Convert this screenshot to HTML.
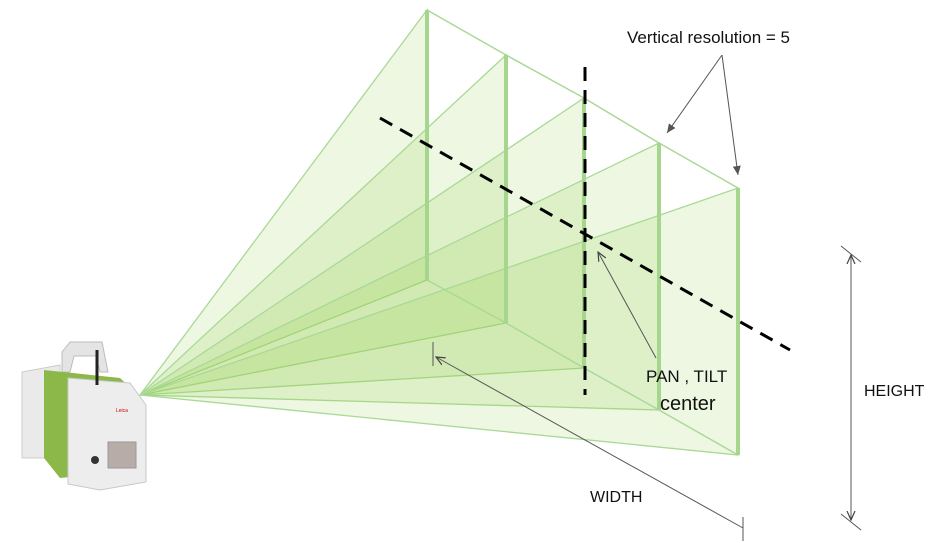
<!DOCTYPE html>
<html><head><style>body{margin:0;background:#fff}svg{display:block}</style></head><body>
<svg width="945" height="543" viewBox="0 0 945 543" xmlns="http://www.w3.org/2000/svg" font-family="Liberation Sans, sans-serif">
<defs>
<marker id="a" markerWidth="10" markerHeight="10" refX="9" refY="5" orient="auto" markerUnits="userSpaceOnUse"><path d="M0,1 L9,5 L0,9" fill="none" stroke="#444" stroke-width="1.2"/></marker>
<marker id="af" markerWidth="10" markerHeight="10" refX="9" refY="5" orient="auto" markerUnits="userSpaceOnUse"><path d="M0,1 L9,5 L0,9 z" fill="#555"/></marker>
</defs>
<g fill="rgba(146,208,80,0.17)" stroke="#a9d996" stroke-width="1.3">
<polygon points="140,395 427,10 427,280"/>
<polygon points="140,395 506,55 506,323"/>
<polygon points="140,395 584,98 584,368"/>
<polygon points="140,395 659,143 659,410"/>
<polygon points="140,395 738,188 738,455"/>
</g>
<g fill="none" stroke="#a9d996" stroke-width="1.5">
<polyline points="427,10 506,55 584,98 659,143 738,188"/>
<polyline points="427,280 506,323 584,368 659,410 738,455"/>
</g>
<g stroke="#a6d68e" stroke-width="4">
<line x1="427" y1="10" x2="427" y2="280"/><line x1="506" y1="55" x2="506" y2="323"/>
<line x1="584" y1="98" x2="584" y2="368"/><line x1="659" y1="143" x2="659" y2="410"/>
<line x1="738" y1="188" x2="738" y2="455"/>
</g>
<g stroke="#000" stroke-width="3" stroke-dasharray="14,9">
<line x1="380" y1="118" x2="790" y2="350"/>
<line x1="585" y1="67" x2="585" y2="395"/>
</g>
<g stroke="#555" stroke-width="1" fill="none">
<line x1="722" y1="55" x2="667" y2="133" marker-end="url(#af)"/>
<line x1="722" y1="55" x2="738" y2="175" marker-end="url(#af)"/>
<line x1="656" y1="358" x2="598" y2="252" marker-end="url(#a)"/>
<line x1="743" y1="528" x2="436" y2="357" marker-end="url(#a)"/>
<line x1="433" y1="342" x2="433" y2="366"/>
<line x1="743" y1="517" x2="743" y2="541"/>
<line x1="851" y1="520" x2="851" y2="255" marker-end="url(#a)"/>
<line x1="851" y1="256" x2="851" y2="520" marker-end="url(#a)"/>
<line x1="841" y1="246" x2="861" y2="262"/>
<line x1="841" y1="514" x2="861" y2="530"/>
</g>
<g fill="#111" font-size="17">
<text x="627" y="43">Vertical resolution = 5</text>
<text x="646" y="382">PAN , TILT</text>
<text x="660" y="410" font-size="20">center</text>
<text x="590" y="502" font-size="16">WIDTH</text>
<text x="864" y="396" font-size="16">HEIGHT</text>
</g>
<!-- scanner -->
<g>
<path d="M62,352 L70,342 L102,342 L108,372 L100,372 L96,356 L74,356 L70,372 L62,372z" fill="#e4e4e4" stroke="#bbb"/>
<path d="M22,372 L60,365 L60,458 L22,458z" fill="#eaeaea" stroke="#ccc"/>
<path d="M44,370 L120,378 L138,395 L138,470 L60,478 L44,458z" fill="#8cb84a"/>
<path d="M68,378 L130,383 L146,405 L146,482 L100,490 L68,484z" fill="#ededed" stroke="#c8c8c8"/>
<rect x="108" y="442" width="28" height="26" fill="#b8aca8" stroke="#999"/>
<circle cx="95" cy="460" r="4" fill="#333"/>
<line x1="97" y1="350" x2="97" y2="385" stroke="#222" stroke-width="3"/>
<text x="116" y="412" font-size="5" fill="#c00">Leica</text>
</g>
</svg>
</body></html>
